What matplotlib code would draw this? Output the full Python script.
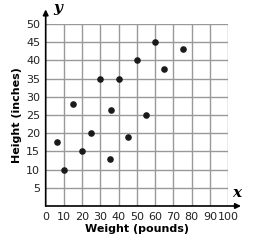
import matplotlib.pyplot as plt

weight = [6, 10, 15, 20, 25, 30, 35, 36, 40, 45, 50, 55, 60, 65, 75]
height = [17.5, 10, 28, 15, 20, 35, 13, 26.5, 35, 19, 40, 25, 45, 37.5, 43]
xticks = list(range(0, 101, 10))
yticks = list(range(5, 51, 5))

fig = plt.figure(figsize=(2.71, 2.48), dpi=100)
ax = fig.add_axes([0.1686, 0.1694, 0.6735, 0.7339])
ax.set_xlim(0, 100)
ax.set_ylim(0, 50)

for x in xticks[1:]:
    ax.axvline(x, color="#999999", lw=1.0, zorder=1)
for y in yticks:
    ax.axhline(y, color="#999999", lw=1.0, zorder=1)

ax.scatter(weight, height, s=14, color="#1a1a1a", zorder=3)

for s in ax.spines.values():
    s.set_visible(False)

# axes with arrows
ax.annotate("", xy=(107, 0), xytext=(0, 0), annotation_clip=False,
            arrowprops=dict(arrowstyle="-|>", color="black", lw=1.2,
                            mutation_scale=8, shrinkA=0, shrinkB=0))
ax.annotate("", xy=(0, 54), xytext=(0, 0), annotation_clip=False,
            arrowprops=dict(arrowstyle="-|>", color="black", lw=1.2,
                            mutation_scale=8, shrinkA=0, shrinkB=0))

ax.set_xticks(xticks)
ax.set_yticks(yticks)
ax.tick_params(length=0, labelsize=8, pad=4, colors="#222222")
ax.set_xticklabels([str(v) for v in xticks])
ax.set_yticklabels([str(v) for v in yticks])

ax.set_xlabel("Weight (pounds)", fontsize=8, fontweight="bold", labelpad=2)
ax.set_ylabel("Height (inches)", fontsize=8, fontweight="bold", labelpad=3)

ax.text(104.5, 3.5, "x", fontsize=11, fontstyle="italic", fontweight="bold",
        family="DejaVu Serif", ha="center", va="center", clip_on=False)
ax.text(6.5, 54.5, "y", fontsize=11, fontstyle="italic", fontweight="bold",
        family="DejaVu Serif", ha="center", va="center", clip_on=False)

fig.savefig("out.png", dpi=100)
